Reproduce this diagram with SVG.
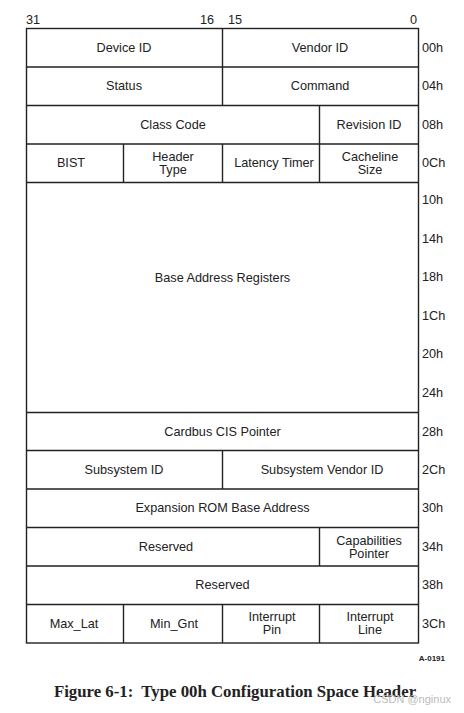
<svg xmlns="http://www.w3.org/2000/svg" width="464" height="713" viewBox="0 0 464 713">
<style>
.c{fill:none;stroke:#222;stroke-width:1.4}
text{font-family:"Liberation Sans",Arial,sans-serif;font-size:12.7px;fill:#222}
.m{text-anchor:middle;dominant-baseline:central}
.o{dominant-baseline:central}
.cap{font-family:"Liberation Serif","Times New Roman",serif;font-weight:bold;font-size:16.8px;text-anchor:middle;white-space:pre}
</style>
<rect width="464" height="713" fill="#fff"/>
<g id="bits">
<text x="26" y="24">31</text>
<text x="214" y="24" text-anchor="end">16</text>
<text x="228" y="24">15</text>
<text x="417" y="24" text-anchor="end">0</text>
</g>
<g id="grid">
<rect class="c" x="26.5" y="28.5" width="392" height="614.5"/>
<path class="c" d="M26.5 67H418.5M26.5 105.5H418.5M26.5 144H418.5M26.5 182.5H418.5M26.5 412.5H418.5M26.5 450.5H418.5M26.5 489H418.5M26.5 527.5H418.5M26.5 566H418.5M26.5 604.5H418.5
M222.5 28.5V105.5M319.5 105.5V182.5M123.5 144V182.5M222.5 144V182.5M222.5 450.5V489M319.5 527.5V566M123.5 604.5V643M222.5 604.5V643M319.5 604.5V643"/>
</g>
<g id="fields">
<text class="m" x="124" y="47.5">Device ID</text>
<text class="m" x="320" y="47.5">Vendor ID</text>
<text class="m" x="124" y="86">Status</text>
<text class="m" x="320" y="86">Command</text>
<text class="m" x="173" y="124.5">Class Code</text>
<text class="m" x="369" y="124.5">Revision ID</text>
<text class="m" x="71" y="163">BIST</text>
<text class="m" x="173" y="156.5">Header</text>
<text class="m" x="173" y="170">Type</text>
<text class="m" x="274" y="163">Latency Timer</text>
<text class="m" x="370" y="156.5">Cacheline</text>
<text class="m" x="370" y="170">Size</text>
<text class="m" x="222.5" y="278">Base Address Registers</text>
<text class="m" x="222.5" y="431.5">Cardbus CIS Pointer</text>
<text class="m" x="124" y="469.5">Subsystem ID</text>
<text class="m" x="322" y="469.5">Subsystem Vendor ID</text>
<text class="m" x="222.5" y="508">Expansion ROM Base Address</text>
<text class="m" x="166" y="547">Reserved</text>
<text class="m" x="369" y="540.5">Capabilities</text>
<text class="m" x="369" y="553.5">Pointer</text>
<text class="m" x="222.5" y="585">Reserved</text>
<text class="m" x="74" y="623.5">Max_Lat</text>
<text class="m" x="174" y="623.5">Min_Gnt</text>
<text class="m" x="272" y="617">Interrupt</text>
<text class="m" x="272" y="630">Pin</text>
<text class="m" x="370" y="617">Interrupt</text>
<text class="m" x="370" y="630">Line</text>
</g>
<g id="offsets">
<text class="o" x="422" y="47.5">00h</text>
<text class="o" x="422" y="86">04h</text>
<text class="o" x="422" y="124.5">08h</text>
<text class="o" x="422" y="163">0Ch</text>
<text class="o" x="422" y="200">10h</text>
<text class="o" x="422" y="239">14h</text>
<text class="o" x="422" y="277">18h</text>
<text class="o" x="422" y="316">1Ch</text>
<text class="o" x="422" y="354">20h</text>
<text class="o" x="422" y="393">24h</text>
<text class="o" x="422" y="431.5">28h</text>
<text class="o" x="422" y="469.5">2Ch</text>
<text class="o" x="422" y="508">30h</text>
<text class="o" x="422" y="547">34h</text>
<text class="o" x="422" y="585">38h</text>
<text class="o" x="422" y="623.5">3Ch</text>
</g>
<g id="caption">
<text x="445" y="661" text-anchor="end" style="font-size:8px;font-weight:bold">A-0191</text>
<text class="cap" x="235" y="697" xml:space="preserve">Figure 6-1:  Type 00h Configuration Space Header</text>
<text x="451" y="703" text-anchor="end" style="font-size:11px;fill:#bbb">CSDN @nginux</text>
</g>
</svg>
